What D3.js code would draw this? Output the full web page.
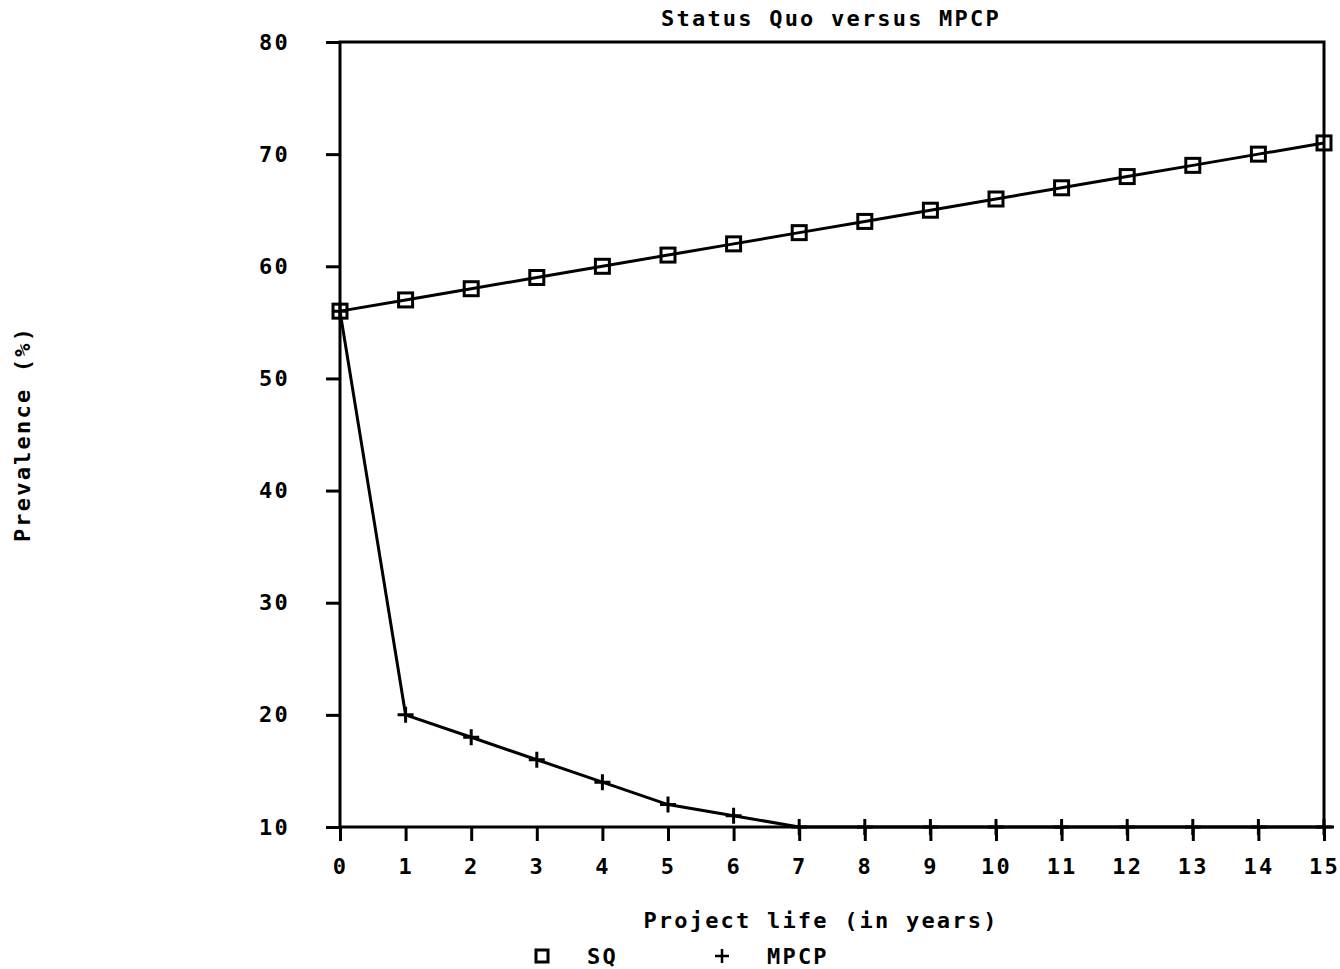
<!DOCTYPE html>
<html>
<head>
<meta charset="utf-8">
<script src="https://cdn.jsdelivr.net/npm/d3@7"></script>
<style>
  body { margin: 0; background: #fff; }
  svg text { font-family: "DejaVu Sans Mono", monospace; font-weight: bold; fill: #000; }
</style>
</head>
<body>
<svg id="chart"></svg>
<script>
// ---- chart data ----
const years = [0, 1, 2, 3, 4, 5, 6, 7, 8, 9, 10, 11, 12, 13, 14, 15];
const sqValues = [56, 57, 58, 59, 60, 61, 62, 63, 64, 65, 66, 67, 68, 69, 70, 71];
const mpcpValues = [56, 20, 18, 16, 14, 12, 11, 10, 10, 10, 10, 10, 10, 10, 10, 10];
const yTicks = [10, 20, 30, 40, 50, 60, 70, 80];
const seriesNames = ["SQ", "MPCP"];

const chartTitle = "Status Quo versus MPCP";
const xTitle = "Project life (in years)";
const yTitle = "Prevalence (%)";

const width = 1340, height = 969;

const svg = d3.select("#chart")
    .attr("width", width)
    .attr("height", height);

const x = d3.scaleLinear().domain([0, 15]).range([340, 1324]);
const y = d3.scaleLinear().domain([10, 80]).range([827, 42]);

const fontSize = 22, spacing = 2.2, sw = 3;

// frame (top + right edges; left/bottom come from the axes)
svg.append("rect")
    .attr("x", x(0)).attr("y", y(80))
    .attr("width", x(15) - x(0)).attr("height", y(10) - y(80))
    .attr("fill", "none").attr("stroke", "#000").attr("stroke-width", sw);

// x axis
const xAxis = svg.append("g")
    .attr("transform", `translate(0,${y(10)})`)
    .call(d3.axisBottom(x).tickValues(years).tickFormat(d3.format("d"))
        .tickSize(14).tickSizeOuter(0).tickPadding(17));
xAxis.select(".domain").remove();
xAxis.selectAll("line").attr("stroke", "#000").attr("stroke-width", sw);
xAxis.selectAll("text").attr("font-size", fontSize).attr("letter-spacing", spacing)
    .attr("font-family", null);

// y axis
const yAxis = svg.append("g")
    .attr("transform", `translate(${x(0)},0)`)
    .call(d3.axisLeft(y).tickValues(yTicks).tickFormat(d3.format("d"))
        .tickSize(14).tickSizeOuter(0).tickPadding(36));
yAxis.select(".domain").remove();
yAxis.selectAll("line").attr("stroke", "#000").attr("stroke-width", sw);
yAxis.selectAll("text").attr("font-size", fontSize).attr("letter-spacing", spacing)
    .attr("font-family", null);

// slight overhang of the base line past the right edge
svg.append("line")
    .attr("x1", x(15)).attr("x2", x(15) + 10)
    .attr("y1", y(10)).attr("y2", y(10))
    .attr("stroke", "#000").attr("stroke-width", sw);

// series lines
const line = d3.line().x((d, i) => x(years[i])).y(d => y(d));

svg.append("path").datum(sqValues)
    .attr("d", line).attr("fill", "none")
    .attr("stroke", "#000").attr("stroke-width", sw);

svg.append("path").datum(mpcpValues)
    .attr("d", line).attr("fill", "none")
    .attr("stroke", "#000").attr("stroke-width", sw);

// markers
const sq = 14;
svg.selectAll(".sq").data(sqValues).enter().append("rect")
    .attr("class", "sq")
    .attr("x", (d, i) => x(years[i]) - sq / 2)
    .attr("y", d => y(d) - sq / 2)
    .attr("width", sq).attr("height", sq)
    .attr("fill", "none").attr("stroke", "#000").attr("stroke-width", sw);

function plusPath(cx, cy, r) {
    return `M${cx - r},${cy}H${cx + r}M${cx},${cy - r}V${cy + r}`;
}
svg.selectAll(".mp").data(mpcpValues).enter().append("path")
    .attr("class", "mp")
    .attr("d", (d, i) => plusPath(x(years[i]), y(d), 8))
    .attr("fill", "none").attr("stroke", "#000").attr("stroke-width", sw);

// titles
svg.append("text")
    .attr("x", 831).attr("y", 26)
    .attr("text-anchor", "middle")
    .attr("font-size", fontSize).attr("letter-spacing", spacing)
    .text(chartTitle);

svg.append("text")
    .attr("x", 821).attr("y", 928)
    .attr("text-anchor", "middle")
    .attr("font-size", fontSize).attr("letter-spacing", spacing)
    .text(xTitle);

svg.append("text")
    .attr("transform", "translate(30,434) rotate(-90)")
    .attr("text-anchor", "middle")
    .attr("font-size", fontSize).attr("letter-spacing", spacing)
    .text(yTitle);

// legend
const legY = 956;
svg.append("rect")
    .attr("x", 536).attr("y", legY - 6)
    .attr("width", 12).attr("height", 12)
    .attr("fill", "none").attr("stroke", "#000").attr("stroke-width", sw);
svg.append("text").attr("x", 587).attr("y", legY + 8)
    .attr("font-size", fontSize).attr("letter-spacing", spacing)
    .text(seriesNames[0]);
svg.append("path")
    .attr("d", plusPath(722, legY, 7))
    .attr("fill", "none").attr("stroke", "#000").attr("stroke-width", 2.5);
svg.append("text").attr("x", 767).attr("y", legY + 8)
    .attr("font-size", fontSize).attr("letter-spacing", spacing)
    .text(seriesNames[1]);
</script>
</body>
</html>
